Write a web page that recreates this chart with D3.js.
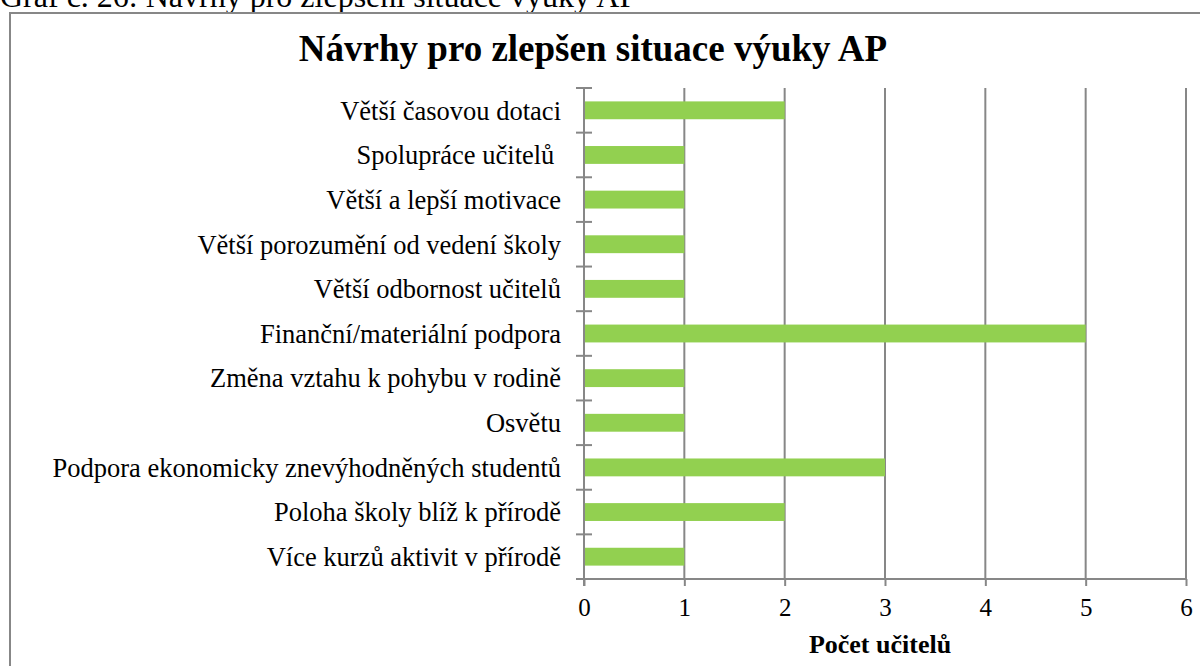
<!DOCTYPE html>
<html>
<head>
<meta charset="utf-8">
<script src="https://cdn.jsdelivr.net/npm/d3@7"></script>
<style>
  body { margin: 0; background: #fff; }
  svg text { font-family: "Liberation Serif", "Times New Roman", serif; }
</style>
</head>
<body>
<svg id="chart" width="1200" height="666"></svg>
<script>
// data
const categories = [
    "Větší časovou dotaci",
    "Spolupráce učitelů ",
    "Větší a lepší motivace",
    "Větší porozumění od vedení školy",
    "Větší odbornost učitelů",
    "Finanční/materiální podpora",
    "Změna vztahu k pohybu v rodině",
    "Osvětu",
    "Podpora ekonomicky znevýhodněných studentů",
    "Poloha školy blíž k přírodě",
    "Více kurzů aktivit v přírodě"
];
const values = [2, 1, 1, 1, 1, 5, 1, 1, 3, 2, 1];
const xTicks = [0, 1, 2, 3, 4, 5, 6];

const caption = "Graf č. 26: Návrhy pro zlepšení situace výuky AP";
const title = "Návrhy pro zlepšen situace výuky AP";
const xLabel = "Počet učitelů";

const gray = "#878787",
      barColor = "#92d050",
      serif = '"Liberation Serif", "Times New Roman", serif';

let svg = d3.select('#chart');

let margin = { top: 88, right: 14, bottom: 87, left: 584 },
    width = 1200 - margin.left - margin.right,
    height = 666 - margin.top - margin.bottom;

// caption above the chart frame (cut off at the top)
svg.append('text')
    .attr('x', 0)
    .attr('y', 7)
    .style('font-family', serif)
    .style('font-size', '32px')
    .attr('fill', '#000')
    .text(caption);

// chart frame
svg.append('rect')
    .attr('x', 10)
    .attr('y', 13)
    .attr('width', 1300)
    .attr('height', 800)
    .attr('fill', 'none')
    .attr('stroke', gray)
    .attr('stroke-width', 2);

svg.append('text')
    .attr('x', 593)
    .attr('y', 61)
    .attr('text-anchor', 'middle')
    .style('font-family', serif)
    .style('font-size', '37px')
    .style('font-weight', 'bold')
    .text(title);

let g = svg.append('g')
    .attr('transform', 'translate(' + margin.left + ',' + margin.top + ')');

let xScale = d3.scaleLinear()
    .domain([0, 6])
    .range([0, width]);

let yScale = d3.scaleBand()
    .domain(categories)
    .range([0, height])
    .paddingInner(0.6)
    .paddingOuter(0.3);

// vertical gridlines
g.append('g')
    .selectAll('line')
    .data(xTicks.slice(1))
    .join('line')
    .attr('x1', d => xScale(d))
    .attr('x2', d => xScale(d))
    .attr('y1', 0)
    .attr('y2', height)
    .attr('stroke', gray)
    .attr('stroke-width', 2);

// bars
g.append('g')
    .selectAll('rect')
    .data(values)
    .join('rect')
    .attr('x', xScale(0))
    .attr('y', (d, i) => yScale(categories[i]))
    .attr('width', d => xScale(d) - xScale(0))
    .attr('height', yScale.bandwidth())
    .attr('fill', barColor);

// x axis
let xAxis = g.append('g')
    .attr('transform', 'translate(0,' + height + ')')
    .call(
        d3.axisBottom(xScale)
            .tickValues(xTicks)
            .tickFormat(d3.format('d'))
            .tickSize(7)
            .tickSizeOuter(0)
            .tickPadding(12)
    );
xAxis.attr('font-family', null);
xAxis.select('.domain')
    .attr('stroke', gray)
    .attr('stroke-width', 2)
    .attr('d', 'M-8,0H' + width);
xAxis.selectAll('.tick line')
    .attr('stroke', gray)
    .attr('stroke-width', 2);
xAxis.selectAll('.tick text')
    .style('font-family', serif)
    .style('font-size', '25px')
    .attr('fill', '#000');

// y axis: crossing tick marks on band boundaries
let bounds = categories.map((c, i) => i * yScale.step()).concat([height]);
g.append('line')
    .attr('x1', 0).attr('x2', 0)
    .attr('y1', 0).attr('y2', height + 7)
    .attr('stroke', gray)
    .attr('stroke-width', 2);
g.append('g')
    .selectAll('line')
    .data(bounds)
    .join('line')
    .attr('x1', -8)
    .attr('x2', 8)
    .attr('y1', d => d)
    .attr('y2', d => d)
    .attr('stroke', gray)
    .attr('stroke-width', 2);

// category labels (trailing spaces kept, as in the source chart)
g.append('g')
    .selectAll('text')
    .data(categories)
    .join('text')
    .attr('x', -23)
    .attr('y', d => yScale(d) + yScale.bandwidth() / 2)
    .attr('dy', '0.35em')
    .attr('text-anchor', 'end')
    .style('white-space', 'pre')
    .style('font-family', serif)
    .style('font-size', '26.5px')
    .text(d => d);

// x axis title
svg.append('text')
    .attr('x', 880)
    .attr('y', 653)
    .attr('text-anchor', 'middle')
    .style('font-family', serif)
    .style('font-size', '26px')
    .style('font-weight', 'bold')
    .text(xLabel);
</script>
</body>
</html>
